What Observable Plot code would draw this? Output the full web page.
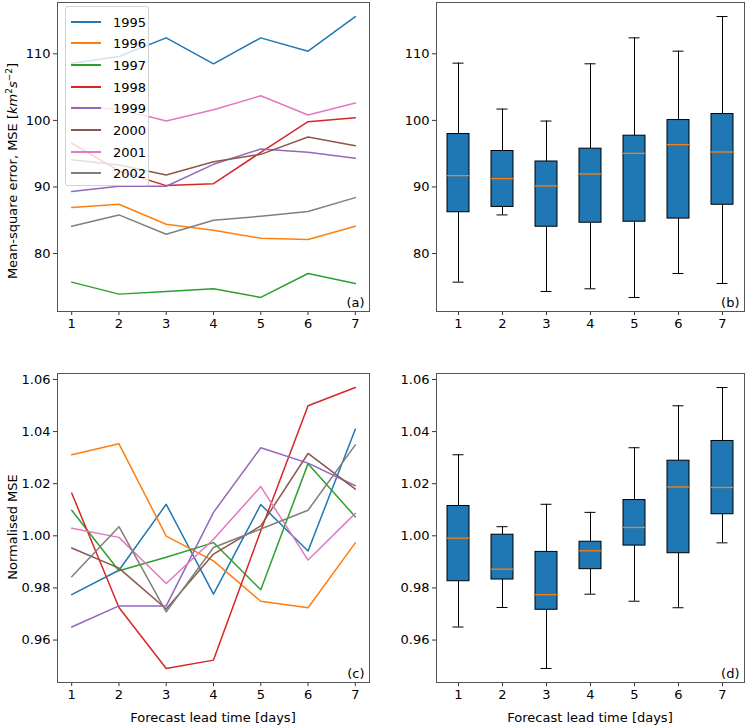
<!DOCTYPE html>
<html><head><meta charset="utf-8">
<script src="https://cdn.jsdelivr.net/npm/d3@7"></script>
<script src="https://cdn.jsdelivr.net/npm/@observablehq/plot@0.6"></script>
<style>
body{margin:0;background:#fff;font-family:"DejaVu Sans",sans-serif;}
#root{position:relative;width:749px;height:726px;overflow:hidden;background:#fff;}
.panel{position:absolute;}
.ylab{position:absolute;font-size:13px;white-space:nowrap;transform:translate(-50%,-50%) rotate(-90deg);color:#000;}
.xlab{position:absolute;font-size:13px;white-space:nowrap;transform:translate(-50%,-50%);color:#000;}
.legend{position:absolute;left:65px;top:6px;width:82px;height:178px;border:1px solid #d0d0d0;border-radius:3px;background:rgba(255,255,255,0.8);}
.lrow{position:absolute;left:0;height:20px;display:flex;align-items:center;font-size:13px;}
.lline{width:30px;margin-left:5px;height:2px;}
.ltext{margin-left:12px;}
</style></head><body><div id="root"></div>
<script>
const days = [1, 2, 3, 4, 5, 6, 7];
const years = ["1995", "1996", "1997", "1998", "1999", "2000", "2001", "2002"];
const colors = ["#1f77b4", "#ff7f0e", "#2ca02c", "#d62728", "#9467bd", "#8c564b", "#e377c2", "#7f7f7f"];

// Mean-square error per year (days 1..7)
const mse1995 = [108.6, 109.6, 112.4, 108.5, 112.4, 110.4, 115.6];
const mse1996 = [86.9, 87.4, 84.4, 83.5, 82.3, 82.1, 84.1];
const mse1997 = [75.7, 73.9, 74.3, 74.7, 73.4, 77.0, 75.5];
const mse1998 = [96.6, 92.4, 90.2, 90.5, 95.2, 99.8, 100.4];
const mse1999 = [89.3, 90.1, 90.1, 93.4, 95.7, 95.2, 94.3];
const mse2000 = [94.1, 93.3, 91.8, 93.8, 94.9, 97.5, 96.2];
const mse2001 = [102.0, 101.7, 99.9, 101.6, 103.7, 100.8, 102.6];
const mse2002 = [84.1, 85.8, 82.9, 85.0, 85.6, 86.3, 88.4];

// Normalised MSE per year (days 1..7)
const norm1995 = [0.9774, 0.9868, 1.0121, 0.9776, 1.0120, 0.9942, 1.0409];
const norm1996 = [1.0311, 1.0353, 0.9999, 0.9904, 0.9749, 0.9724, 0.9973];
const norm1997 = [1.0098, 0.9866, 0.9918, 0.9974, 0.9793, 1.0277, 1.0073];
const norm1998 = [1.0164, 0.9725, 0.9491, 0.9523, 1.0019, 1.0499, 1.0569];
const norm1999 = [0.9650, 0.9731, 0.9731, 1.0090, 1.0338, 1.0279, 1.0192];
const norm2000 = [0.9953, 0.9876, 0.9719, 0.9930, 1.0038, 1.0316, 1.0179];
const norm2001 = [1.0029, 0.9994, 0.9817, 0.9987, 1.0189, 0.9907, 1.0086];
const norm2002 = [0.9843, 1.0035, 0.9708, 0.9955, 1.0026, 1.0098, 1.0349];

const mseTicks = [80, 90, 100, 110];
const normTicks = [0.96, 0.98, 1.00, 1.02, 1.04, 1.06];
const panelLabels = ["(a)", "(b)", "(c)", "(d)"];

const mseSeries = [mse1995, mse1996, mse1997, mse1998, mse1999, mse2000, mse2001, mse2002];
const normSeries = [norm1995, norm1996, norm1997, norm1998, norm1999, norm2000, norm2001, norm2002];

function tidy(series) {
  const rows = [];
  series.forEach((vals, i) => vals.forEach((v, j) => rows.push({year: years[i], day: days[j], value: v})));
  return rows;
}
const mseRows = tidy(mseSeries);
const normRows = tidy(normSeries);

function padded(rows) {
  const [a, b] = d3.extent(rows, d => d.value);
  const r = b - a;
  return [a - 0.05 * r, b + 0.05 * r];
}

function boxStats(rows) {
  return days.map(d => {
    const v = rows.filter(r => r.day === d).map(r => r.value).sort(d3.ascending);
    const q1 = d3.quantileSorted(v, 0.25), med = d3.quantileSorted(v, 0.5), q3 = d3.quantileSorted(v, 0.75);
    const iqr = q3 - q1;
    const hi = d3.max(v.filter(x => x <= q3 + 1.5 * iqr));
    const lo = d3.min(v.filter(x => x >= q1 - 1.5 * iqr));
    return {day: d, q1, med, q3, hi, lo};
  });
}

const style = {fontFamily: "DejaVu Sans, sans-serif", fontSize: "13px", color: "#000", background: "transparent", overflow: "visible"};
const frameColor = "#555";

function axes(yTicks, fmt) {
  return [
    Plot.axisX({ticks: days, tickSize: 4, tickPadding: 3, label: null, tickFormat: d => String(d), stroke: "#333", fontSize: 13}),
    Plot.axisY({ticks: yTicks, tickSize: 4, tickPadding: 3, label: null, tickFormat: fmt, stroke: "#333", fontSize: 13})
  ];
}

function linePanel(rows, yTicks, fmt, label, geom) {
  return Plot.plot({
    ...geom, style,
    x: {domain: [0.7, 7.3]},
    y: {domain: padded(rows)},
    color: {domain: years, range: colors},
    marks: [
      Plot.lineY(rows, {x: "day", y: "value", stroke: "year", strokeWidth: 1.5}),
      ...axes(yTicks, fmt),
      Plot.text([label], {frameAnchor: "bottom-right", dx: -5, dy: -5, textAnchor: "end", lineAnchor: "bottom", fontSize: 13}),
      Plot.frame({stroke: frameColor})
    ]
  });
}

function boxPanel(rows, yTicks, fmt, label, geom) {
  const stats = boxStats(rows);
  const bw = 0.5;
  return Plot.plot({
    ...geom, style,
    x: {domain: [0.5, 7.5]},
    y: {domain: padded(rows)},
    marks: [
      Plot.ruleX(stats, {x: "day", y1: "q3", y2: "hi", stroke: "#000", strokeWidth: 1}),
      Plot.ruleX(stats, {x: "day", y1: "lo", y2: "q1", stroke: "#000", strokeWidth: 1}),
      Plot.ruleY(stats, {y: "hi", x1: d => d.day - bw / 4, x2: d => d.day + bw / 4, stroke: "#000"}),
      Plot.ruleY(stats, {y: "lo", x1: d => d.day - bw / 4, x2: d => d.day + bw / 4, stroke: "#000"}),
      Plot.rect(stats, {x1: d => d.day - bw / 2, x2: d => d.day + bw / 2, y1: "q1", y2: "q3", fill: "#1f77b4", stroke: "#000", strokeWidth: 1}),
      Plot.ruleY(stats, {y: "med", x1: d => d.day - bw / 2, x2: d => d.day + bw / 2, stroke: "#ff7f0e", strokeWidth: 1.3}),
      ...axes(yTicks, fmt),
      Plot.text([label], {frameAnchor: "bottom-right", dx: -5, dy: -5, textAnchor: "end", lineAnchor: "bottom", fontSize: 13}),
      Plot.frame({stroke: frameColor})
    ]
  });
}

const root = document.getElementById("root");
function place(el, left, top) {
  const w = document.createElement("div");
  w.className = "panel";
  w.style.left = left + "px";
  w.style.top = top + "px";
  w.appendChild(el);
  root.appendChild(w);
  return w;
}

const topGeom = {height: 340, marginTop: 2, marginBottom: 29};
const botGeom = {height: 370, marginTop: 33, marginBottom: 28};
const leftGeom = {width: 380, marginLeft: 57, marginRight: 11};
const rightGeom = {width: 369, marginLeft: 56, marginRight: 5};

place(linePanel(mseRows, mseTicks, d => String(d), panelLabels[0], {...topGeom, ...leftGeom}), 0, 0);
place(boxPanel(mseRows, mseTicks, d => String(d), panelLabels[1], {...topGeom, ...rightGeom}), 380, 0);
place(linePanel(normRows, normTicks, d3.format(".2f"), panelLabels[2], {...botGeom, ...leftGeom}), 0, 340);
place(boxPanel(normRows, normTicks, d3.format(".2f"), panelLabels[3], {...botGeom, ...rightGeom}), 380, 340);

// legend
const leg = document.createElement("div");
leg.className = "legend";
years.forEach((y, i) => {
  const row = document.createElement("div");
  row.className = "lrow";
  row.style.top = Math.round(4.5 + i * 21.7) + "px";
  const ln = document.createElement("div");
  ln.className = "lline";
  ln.style.background = colors[i];
  const tx = document.createElement("span");
  tx.className = "ltext";
  tx.textContent = y;
  row.appendChild(ln); row.appendChild(tx);
  leg.appendChild(row);
});
root.appendChild(leg);

// axis labels
function label(html, cls, x, y) {
  const d = document.createElement("div");
  d.className = cls;
  d.style.left = x + "px";
  d.style.top = y + "px";
  d.innerHTML = html;
  root.appendChild(d);
}
label('Mean-square error, MSE [<i>km</i><sup style="font-size:9px">2</sup><i>s</i><sup style="font-size:9px">−2</sup>]', "ylab", 12, 171);
label("Normalised MSE", "ylab", 12, 527);
label("Forecast lead time [days]", "xlab", 213, 717);
label("Forecast lead time [days]", "xlab", 590, 717);
</script>
</body></html>
